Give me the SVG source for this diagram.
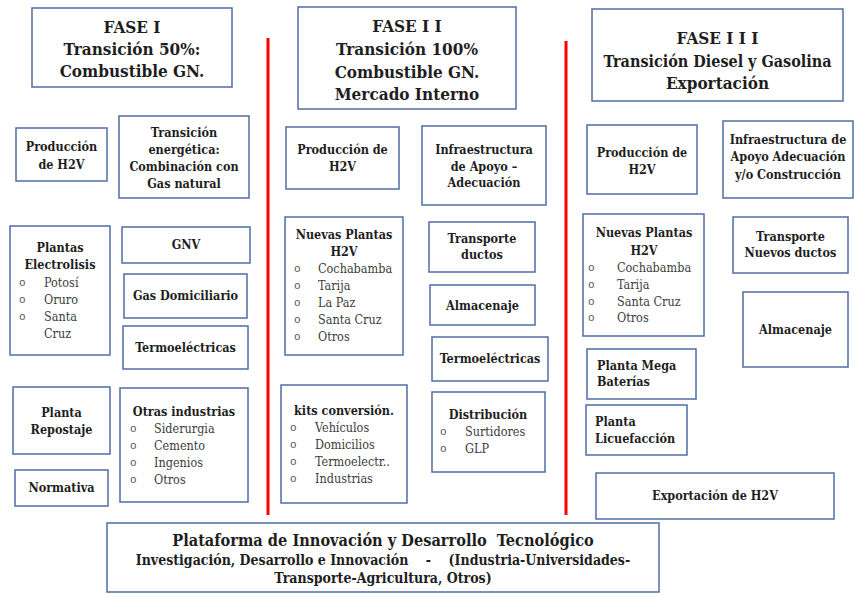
<svg xmlns="http://www.w3.org/2000/svg" width="854" height="595" viewBox="0 0 854 595">
<style>
.box{fill:#fff;stroke:#4f6ea8;stroke-width:1.5}
.sep{stroke:#ff0000;stroke-width:3}
text{font-family:"DejaVu Serif Condensed","DejaVu Serif","Liberation Serif",serif;fill:#1e1e1e}
.h{font-size:17px;font-weight:bold;text-anchor:middle}
.b{font-size:12.5px;font-weight:bold;text-anchor:middle}
.bl{font-size:12.5px;font-weight:bold}
.i{font-size:12.5px;fill:#3c3c3c}
.o{font-family:"Liberation Mono",monospace;font-size:11px;fill:#555}
.p1{font-size:16.2px;font-weight:bold;text-anchor:middle}
.p2{font-size:14px;font-weight:bold;text-anchor:middle}
</style>
<rect width="854" height="595" fill="#fff"/>
<g id="connectors">
<line class="sep" x1="268" y1="38" x2="268" y2="515"/>
<line class="sep" x1="566" y1="41" x2="566" y2="515"/>
</g>
<g id="fase1">
<rect class="box" x="32" y="8" width="200" height="79"/>
<text class="h" x="132" y="33">FASE  I</text>
<text class="h" x="132" y="55">Transición 50%:</text>
<text class="h" x="132" y="77">Combustible GN.</text>
</g>
<g id="fase2">
<rect class="box" x="298" y="7" width="218" height="102"/>
<text class="h" x="407" y="32">FASE  I I</text>
<text class="h" x="407" y="55">Transición 100%</text>
<text class="h" x="407" y="78">Combustible GN.</text>
<text class="h" x="407" y="100">Mercado Interno</text>
</g>
<g id="fase3">
<rect class="box" x="592" y="9" width="251" height="92"/>
<text class="h" x="717.5" y="44">FASE  I I I</text>
<text class="h" x="717.5" y="67" style="font-size:16px">Transición Diesel y Gasolina</text>
<text class="h" x="717.5" y="89">Exportación</text>
</g>
<g id="f1-produccion">
<rect class="box" x="16" y="128" width="91" height="53"/>
<text class="b" x="61.5" y="151">Producción</text>
<text class="b" x="61.5" y="169">de H2V</text>
</g>
<g id="f1-transicion">
<rect class="box" x="119" y="116" width="130" height="82"/>
<text class="b" x="184" y="137">Transición</text>
<text class="b" x="184" y="154">energética:</text>
<text class="b" x="184" y="171">Combinación con</text>
<text class="b" x="184" y="188">Gas natural</text>
</g>
<g id="f1-plantas">
<rect class="box" x="10" y="226" width="100" height="129"/>
<text class="b" x="60" y="252">Plantas</text>
<text class="b" x="60" y="269">Electrolisis</text>
<text class="o" x="19" y="286">o</text><text class="i" x="44" y="287">Potosí</text>
<text class="o" x="19" y="303">o</text><text class="i" x="44" y="304">Oruro</text>
<text class="o" x="19" y="320">o</text><text class="i" x="44" y="321">Santa</text>
<text class="i" x="44" y="338">Cruz</text>
</g>
<g id="f1-gnv">
<rect class="box" x="122" y="227" width="128" height="36"/>
<text class="b" x="186" y="249">GNV</text>
</g>
<g id="f1-gas">
<rect class="box" x="124" y="274" width="123" height="44"/>
<text class="b" x="185.5" y="300">Gas Domiciliario</text>
</g>
<g id="f1-termo">
<rect class="box" x="123" y="326" width="125" height="43"/>
<text class="b" x="185.5" y="352">Termoeléctricas</text>
</g>
<g id="f1-repostaje">
<rect class="box" x="13" y="387" width="97" height="67"/>
<text class="b" x="61.5" y="417">Planta</text>
<text class="b" x="61.5" y="434">Repostaje</text>
</g>
<g id="f1-otras">
<rect class="box" x="120" y="388" width="128" height="114"/>
<text class="b" x="184" y="416">Otras  industrias</text>
<text class="o" x="130" y="432">o</text><text class="i" x="154" y="433">Siderurgia</text>
<text class="o" x="130" y="449">o</text><text class="i" x="154" y="450">Cemento</text>
<text class="o" x="130" y="466">o</text><text class="i" x="154" y="467">Ingenios</text>
<text class="o" x="130" y="483">o</text><text class="i" x="154" y="484">Otros</text>
</g>
<g id="f1-normativa">
<rect class="box" x="15" y="470" width="93" height="36"/>
<text class="b" x="61.5" y="492">Normativa</text>
</g>
<g id="f2-produccion">
<rect class="box" x="286" y="127" width="113" height="62"/>
<text class="b" x="342.5" y="154">Producción de</text>
<text class="b" x="342.5" y="171">H2V</text>
</g>
<g id="f2-infra">
<rect class="box" x="422" y="126" width="124" height="79"/>
<text class="b" x="484" y="154">Infraestructura</text>
<text class="b" x="484" y="171">de Apoyo –</text>
<text class="b" x="484" y="187">Adecuación</text>
</g>
<g id="f2-plantas">
<rect class="box" x="285" y="217" width="118" height="138"/>
<text class="b" x="344" y="239">Nuevas Plantas</text>
<text class="b" x="344" y="256">H2V</text>
<text class="o" x="294" y="272">o</text><text class="i" x="318" y="273">Cochabamba</text>
<text class="o" x="294" y="289">o</text><text class="i" x="318" y="290">Tarija</text>
<text class="o" x="294" y="306">o</text><text class="i" x="318" y="307">La Paz</text>
<text class="o" x="294" y="323">o</text><text class="i" x="318" y="324">Santa Cruz</text>
<text class="o" x="294" y="340">o</text><text class="i" x="318" y="341">Otros</text>
</g>
<g id="f2-transporte">
<rect class="box" x="429" y="222" width="106" height="50"/>
<text class="b" x="482" y="243">Transporte</text>
<text class="b" x="482" y="259">ductos</text>
</g>
<g id="f2-almacenaje">
<rect class="box" x="430" y="285" width="105" height="40"/>
<text class="b" x="482.5" y="310">Almacenaje</text>
</g>
<g id="f2-termo">
<rect class="box" x="432" y="337" width="116" height="44"/>
<text class="b" x="490" y="363">Termoeléctricas</text>
</g>
<g id="f2-kits">
<rect class="box" x="281" y="385" width="126" height="118"/>
<text class="b" x="344" y="415">kits conversión.</text>
<text class="o" x="290" y="431">o</text><text class="i" x="315" y="432">Vehículos</text>
<text class="o" x="290" y="448">o</text><text class="i" x="315" y="449">Domicilios</text>
<text class="o" x="290" y="465">o</text><text class="i" x="315" y="466">Termoelectr..</text>
<text class="o" x="290" y="482">o</text><text class="i" x="315" y="483">Industrias</text>
</g>
<g id="f2-distribucion">
<rect class="box" x="432" y="392" width="113" height="80"/>
<text class="b" x="488" y="419">Distribución</text>
<text class="o" x="440" y="435">o</text><text class="i" x="465" y="436">Surtidores</text>
<text class="o" x="440" y="452">o</text><text class="i" x="465" y="453">GLP</text>
</g>
<g id="f3-produccion">
<rect class="box" x="587" y="125" width="110" height="69"/>
<text class="b" x="642" y="157">Producción de</text>
<text class="b" x="642" y="174">H2V</text>
</g>
<g id="f3-infra">
<rect class="box" x="723" y="121" width="130" height="77"/>
<text class="b" x="788" y="144">Infraestructura de</text>
<text class="b" x="788" y="161">Apoyo Adecuación</text>
<text class="b" x="788" y="179">y/o Construcción</text>
</g>
<g id="f3-plantas">
<rect class="box" x="583" y="214" width="121" height="122"/>
<text class="b" x="644" y="237">Nuevas Plantas</text>
<text class="b" x="644" y="255">H2V</text>
<text class="o" x="588" y="271">o</text><text class="i" x="617" y="272">Cochabamba</text>
<text class="o" x="588" y="288">o</text><text class="i" x="617" y="289">Tarija</text>
<text class="o" x="588" y="305">o</text><text class="i" x="617" y="306">Santa Cruz</text>
<text class="o" x="588" y="321">o</text><text class="i" x="617" y="322">Otros</text>
</g>
<g id="f3-transporte">
<rect class="box" x="733" y="217" width="115" height="56"/>
<text class="b" x="790.5" y="241">Transporte</text>
<text class="b" x="790.5" y="257">Nuevos ductos</text>
</g>
<g id="f3-almacenaje">
<rect class="box" x="743" y="292" width="105" height="75"/>
<text class="b" x="795.5" y="334">Almacenaje</text>
</g>
<g id="f3-baterias">
<rect class="box" x="587" y="349" width="109" height="50"/>
<text class="bl" x="597" y="370">Planta Mega</text>
<text class="bl" x="597" y="386">Baterías</text>
</g>
<g id="f3-licuefaccion">
<rect class="box" x="586" y="405" width="101" height="50"/>
<text class="bl" x="595" y="426">Planta</text>
<text class="bl" x="595" y="443">Licuefacción</text>
</g>
<g id="f3-exportacion">
<rect class="box" x="596" y="473" width="238" height="46"/>
<text class="b" x="715" y="500">Exportación de H2V</text>
</g>
<g id="plataforma">
<rect class="box" x="107" y="523" width="552" height="69"/>
<text class="p1" x="383" y="546" xml:space="preserve">Plataforma de Innovación y Desarrollo  Tecnológico</text>
<text class="p2" x="383" y="565" xml:space="preserve">Investigación, Desarrollo e Innovación    -    (Industria-Universidades-</text>
<text class="p2" x="383" y="583">Transporte-Agricultura, Otros)</text>
</g>
</svg>
